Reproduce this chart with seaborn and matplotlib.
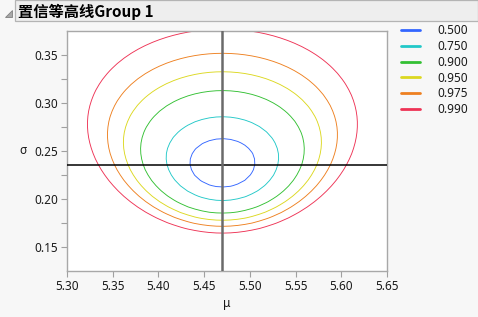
import numpy as np
import pandas as pd
import seaborn as sns
import matplotlib
matplotlib.use("Agg")
import matplotlib.pyplot as plt
from matplotlib.lines import Line2D
from matplotlib.patches import Rectangle, Polygon

# ---- data ----
title = "置信等高线Group 1"
mu_hat = 5.470          # estimated mean (vertical reference line)
sigma_hat = 0.2354      # estimated sigma (horizontal reference line)
n_obs = 20              # sample size implied by contour sizes
levels = [0.500, 0.750, 0.900, 0.950, 0.975, 0.990]
level_labels = ["0.500", "0.750", "0.900", "0.950", "0.975", "0.990"]
level_colors = ["#3366ff", "#22c8c8", "#33c033", "#dcd820", "#ee8020", "#ee3355"]
chi2_1df = [0.4549, 1.3233, 2.7055, 3.8415, 5.0239, 6.6349]  # chi-square(1) quantiles
x_ticks = [5.30, 5.35, 5.40, 5.45, 5.50, 5.55, 5.60, 5.65]
y_ticks = [0.15, 0.20, 0.25, 0.30, 0.35]
x_lim = (5.30, 5.65)
y_lim = (0.125, 0.375)

sns.set_theme(style="ticks")
plt.rcParams["font.family"] = ["Noto Sans", "Noto Sans CJK SC", "DejaVu Sans"]

W, H = 478, 317
fig = plt.figure(figsize=(W / 100, H / 100), dpi=100, facecolor="#f7f7f7")

# title bar
fig.patches.append(Rectangle((15 / W, 1 - 21 / H), 1 - 15 / W, 21 / H,
                             transform=fig.transFigure, facecolor="#eeeeee",
                             edgecolor="#b4b4b4", linewidth=0.9, zorder=0))
fig.patches.append(Polygon([(5 / W, 1 - 16.5 / H), (12 / W, 1 - 16.5 / H), (12 / W, 1 - 9.5 / H)],
                           closed=True, transform=fig.transFigure,
                           facecolor="#a8a8a8", edgecolor="#808080", linewidth=0.6))
fig.text(18 / W, 1 - 11.5 / H, title, fontsize=11, fontweight="bold",
         family=["Noto Sans CJK SC", "DejaVu Sans"], va="center", ha="left", color="#000000")

ax = fig.add_axes([67 / W, (H - 271) / H, 320 / W, 240 / H])
ax.set_facecolor("white")

# likelihood-ratio surface for the normal (mu, sigma), coarse grid like the original
mu_grid = np.linspace(x_lim[0], x_lim[1], 46)
sg_grid = np.linspace(y_lim[0], y_lim[1], 46)
M, S = np.meshgrid(mu_grid, sg_grid)
lr = n_obs * (2 * np.log(S / sigma_hat) + (sigma_hat ** 2 + (M - mu_hat) ** 2) / S ** 2 - 1)
ax.contour(M, S, lr, levels=chi2_1df, colors=level_colors, linewidths=0.65,
           antialiased=True, zorder=2)

# reference lines
ref = pd.DataFrame({"x": [x_lim[0], x_lim[1]], "y": [sigma_hat, sigma_hat]})
sns.lineplot(data=ref, x="x", y="y", color="black", linewidth=1.1, ax=ax, zorder=3,
             estimator=None, sort=False)
ref_v = pd.DataFrame({"x": [mu_hat, mu_hat], "y": [y_lim[0], y_lim[1]]})
sns.lineplot(data=ref_v, x="x", y="y", color="#6a6a6a", linewidth=1.8, ax=ax, zorder=4,
             estimator=None, sort=False)

ax.set_xlim(*x_lim)
ax.set_ylim(*y_lim)
ax.set_xticks(x_ticks)
ax.set_xticklabels([f"{v:.2f}" for v in x_ticks])
ax.set_yticks(y_ticks)
ax.set_yticklabels([f"{v:.2f}" for v in y_ticks])
ax.set_yticks([0.175, 0.225, 0.275, 0.325], minor=True)
ax.tick_params(axis="both", which="major", direction="out", length=4.5, width=0.8,
               color="#a0a0a0", labelsize=8.5, labelcolor="#1a1a1a", pad=2)
ax.tick_params(axis="y", which="minor", direction="out", length=4.5, width=0.8, color="#a0a0a0")
for side in ["top", "right", "bottom", "left"]:
    ax.spines[side].set_visible(True)
    ax.spines[side].set_color("#a8a8a8")
    ax.spines[side].set_linewidth(1.0)
ax.set_xlabel("μ", fontsize=8.5, color="#1a1a1a", labelpad=3)
ax.set_ylabel("σ", fontsize=8.5, color="#1a1a1a", rotation=0, labelpad=8, va="center")

handles = [Line2D([0], [0], color=c, linewidth=2.0) for c in level_colors]
fig.legend(handles, level_labels, loc="upper left",
           bbox_to_anchor=(401 / W, 1 - 24 / H), frameon=False, fontsize=8.5,
           handlelength=1.65, handletextpad=1.4, labelspacing=0.24,
           labelcolor="#1a1a1a", borderaxespad=0, borderpad=0)

fig.savefig("out.png", dpi=100, facecolor=fig.get_facecolor())
